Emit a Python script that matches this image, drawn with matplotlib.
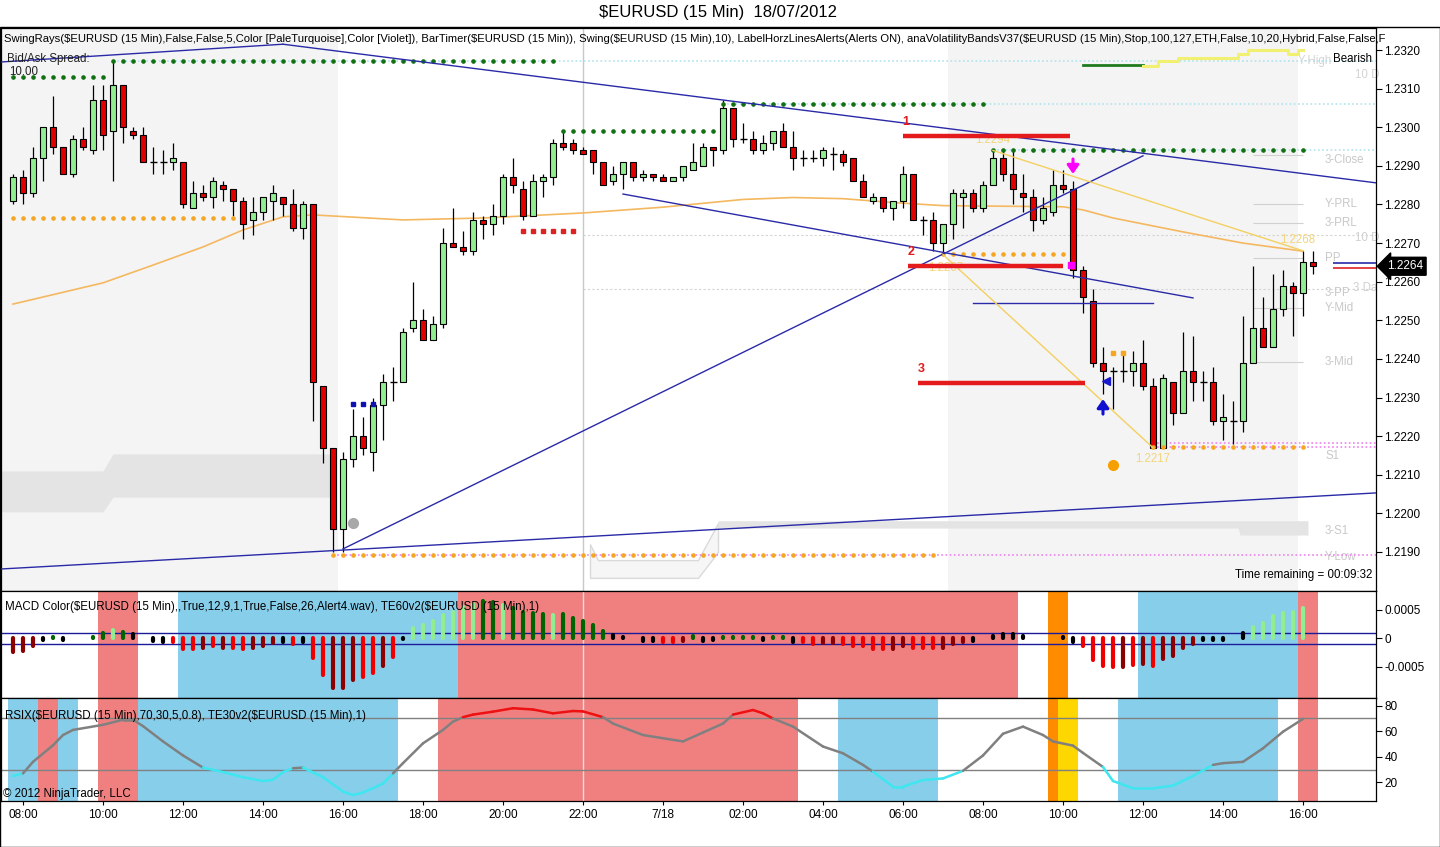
import matplotlib
matplotlib.use("Agg")
import matplotlib.pyplot as plt
import matplotlib.transforms as mtransforms
import numpy as np

plt.rcParams["font.family"] = ["Liberation Sans", "DejaVu Sans"]

W, H = 1440, 847

# 15 min bars, bar 0 = 07:45 on 17/07
opens = [1.2281, 1.2287, 1.2283, 1.2292, 1.2300, 1.2295, 1.2288, 1.2297, 1.2294, 1.2307,
         1.2299, 1.2311, 1.2299, 1.2298, 1.2291, 1.2291, 1.2291, 1.2291, 1.2279, 1.2283,
         1.2282, 1.2285, 1.2284, 1.2281, 1.2276, 1.2278, 1.2281, 1.2282, 1.2280, 1.2274,
         1.2280, 1.2233, 1.2217, 1.2196, 1.2214, 1.2220, 1.2216, 1.2228, 1.2234, 1.2234,
         1.2248, 1.2250, 1.2245, 1.2249, 1.2270, 1.2269, 1.2268, 1.2276, 1.2275, 1.2277,
         1.2287, 1.2284, 1.2277, 1.2286, 1.2287, 1.2296, 1.2296, 1.2294, 1.2294, 1.2291,
         1.2286, 1.2288, 1.2291, 1.2287, 1.2288, 1.2287, 1.2286, 1.2287, 1.2289, 1.2290,
         1.2295, 1.2294, 1.2305, 1.2297, 1.2297, 1.2294, 1.2296, 1.2299, 1.2295, 1.2292,
         1.2292, 1.2292, 1.2293, 1.2293, 1.2292, 1.2286, 1.2281, 1.2282, 1.2279, 1.2281,
         1.2288, 1.2276, 1.2276, 1.2270, 1.2275, 1.2282, 1.2283, 1.2279, 1.2285, 1.2292,
         1.2288, 1.2283, 1.2282, 1.2276, 1.2278, 1.2285, 1.2284, 1.2263, 1.2255, 1.2239,
         1.2237, 1.2237, 1.2237, 1.2239, 1.2233, 1.2217, 1.2234, 1.2226, 1.2237, 1.2234,
         1.2234, 1.2224, 1.2224, 1.2224, 1.2239, 1.2248, 1.2243, 1.2253, 1.2259, 1.2257,
         1.2265]
highs = [1.2288, 1.2289, 1.2295, 1.2300, 1.2308, 1.2295, 1.2298, 1.2300, 1.2311, 1.2311,
         1.2317, 1.2311, 1.2300, 1.2300, 1.2295, 1.2294, 1.2296, 1.2291, 1.2286, 1.2285,
         1.2287, 1.2286, 1.2284, 1.2282, 1.2282, 1.2282, 1.2285, 1.2282, 1.2284, 1.2281,
         1.2280, 1.2233, 1.2217, 1.2216, 1.2227, 1.2225, 1.2230, 1.2236, 1.2238, 1.2248,
         1.2260, 1.2253, 1.2251, 1.2274, 1.2279, 1.2273, 1.2278, 1.2277, 1.2280, 1.2288,
         1.2292, 1.2286, 1.2288, 1.2288, 1.2297, 1.2299, 1.2297, 1.2295, 1.2294, 1.2291,
         1.2290, 1.2291, 1.2291, 1.2289, 1.2288, 1.2288, 1.2287, 1.2290, 1.2296, 1.2296,
         1.2295, 1.2307, 1.2305, 1.2301, 1.2299, 1.2298, 1.2299, 1.2301, 1.2299, 1.2294,
         1.2294, 1.2295, 1.2295, 1.2294, 1.2292, 1.2288, 1.2283, 1.2282, 1.2281, 1.2290,
         1.2288, 1.2277, 1.2278, 1.2275, 1.2284, 1.2284, 1.2284, 1.2286, 1.2294, 1.2294,
         1.2294, 1.2288, 1.2284, 1.2282, 1.2289, 1.2289, 1.2286, 1.2264, 1.2258, 1.2243,
         1.2238, 1.2242, 1.2242, 1.2245, 1.2235, 1.2236, 1.2234, 1.2247, 1.2246, 1.2237,
         1.2238, 1.2231, 1.2229, 1.2251, 1.2264, 1.2256, 1.2262, 1.2263, 1.2260, 1.2268,
         1.2268]
lows = [1.2280, 1.2280, 1.2282, 1.2286, 1.2293, 1.2288, 1.2287, 1.2294, 1.2293, 1.2294,
        1.2286, 1.2296, 1.2297, 1.2291, 1.2288, 1.2288, 1.2289, 1.2279, 1.2279, 1.2281,
        1.2279, 1.2281, 1.2277, 1.2271, 1.2272, 1.2276, 1.2276, 1.2277, 1.2273, 1.2271,
        1.2224, 1.2213, 1.2190, 1.2190, 1.2212, 1.2215, 1.2211, 1.2219, 1.2229, 1.2234,
        1.2247, 1.2245, 1.2245, 1.2248, 1.2269, 1.2267, 1.2267, 1.2271, 1.2272, 1.2275,
        1.2283, 1.2276, 1.2277, 1.2282, 1.2285, 1.2294, 1.2293, 1.2293, 1.2288, 1.2285,
        1.2285, 1.2284, 1.2286, 1.2286, 1.2286, 1.2286, 1.2286, 1.2286, 1.2289, 1.2290,
        1.2290, 1.2293, 1.2295, 1.2296, 1.2293, 1.2293, 1.2294, 1.2295, 1.2289, 1.2290,
        1.2291, 1.2290, 1.2289, 1.2290, 1.2286, 1.2282, 1.2280, 1.2278, 1.2276, 1.2279,
        1.2276, 1.2272, 1.2268, 1.2267, 1.2271, 1.2274, 1.2278, 1.2278, 1.2285, 1.2286,
        1.2280, 1.2278, 1.2273, 1.2275, 1.2277, 1.2283, 1.2261, 1.2252, 1.2238, 1.2231,
        1.2227, 1.2234, 1.2233, 1.2232, 1.2217, 1.2217, 1.2223, 1.2226, 1.2229, 1.2229,
        1.2223, 1.2219, 1.2218, 1.2221, 1.2239, 1.2243, 1.2243, 1.2251, 1.2246, 1.2251,
        1.2262]
closes = [1.2287, 1.2283, 1.2292, 1.2300, 1.2295, 1.2288, 1.2297, 1.2295, 1.2307, 1.2298,
          1.2311, 1.2300, 1.2298, 1.2291, 1.2291, 1.2291, 1.2292, 1.2280, 1.2283, 1.2282,
          1.2286, 1.2284, 1.2281, 1.2275, 1.2278, 1.2282, 1.2283, 1.2280, 1.2274, 1.2280,
          1.2234, 1.2217, 1.2196, 1.2214, 1.2220, 1.2217, 1.2228, 1.2234, 1.2234, 1.2247,
          1.2250, 1.2245, 1.2249, 1.2270, 1.2269, 1.2268, 1.2276, 1.2275, 1.2277, 1.2287,
          1.2285, 1.2277, 1.2286, 1.2287, 1.2296, 1.2295, 1.2294, 1.2293, 1.2291, 1.2285,
          1.2288, 1.2291, 1.2287, 1.2288, 1.2287, 1.2286, 1.2287, 1.2290, 1.2291, 1.2295,
          1.2294, 1.2305, 1.2297, 1.2297, 1.2294, 1.2296, 1.2299, 1.2295, 1.2292, 1.2292,
          1.2292, 1.2294, 1.2293, 1.2291, 1.2286, 1.2282, 1.2282, 1.2279, 1.2281, 1.2288,
          1.2276, 1.2276, 1.2270, 1.2275, 1.2283, 1.2283, 1.2279, 1.2285, 1.2292, 1.2288,
          1.2284, 1.2282, 1.2276, 1.2279, 1.2285, 1.2284, 1.2263, 1.2256, 1.2239, 1.2237,
          1.2237, 1.2237, 1.2239, 1.2233, 1.2217, 1.2235, 1.2226, 1.2237, 1.2234, 1.2234,
          1.2224, 1.2225, 1.2224, 1.2239, 1.2248, 1.2243, 1.2253, 1.2259, 1.2257, 1.2265,
          1.2264]

tick_labels = ["08:00", "10:00", "12:00", "14:00", "16:00", "18:00", "20:00", "22:00", "7/18",
               "02:00", "04:00", "06:00", "08:00", "10:00", "12:00", "14:00", "16:00"]
tick_bars = list(range(1, 131, 8))
price_ticks = [1.2190, 1.2200, 1.2210, 1.2220, 1.2230, 1.2240, 1.2250,
               1.2260, 1.2270, 1.2280, 1.2290, 1.2300, 1.2310, 1.2320]
last_price = 1.2264

# moving average, read at a handful of bars
ma_bars = [0, 9, 14, 19, 23, 27, 30, 39, 47, 57, 65, 73, 78, 83, 88, 93, 105, 107, 110, 117, 123, 129]
ma_vals = [1.22542, 1.22597, 1.22643, 1.22690, 1.22734, 1.22768, 1.22773, 1.22760, 1.22765,
           1.22778, 1.22793, 1.22813, 1.22818, 1.22815, 1.22805, 1.22797, 1.22794, 1.22786,
           1.22765, 1.22729, 1.22700, 1.22679]

# volatility band pieces
vb1_bars = [-1.2, 9, 10, 31.7]
vb1_upper = [1.22110, 1.22110, 1.22154, 1.22154]
vb1_lower = [1.22004, 1.22004, 1.22042, 1.22042]
vb2_bars = [57.7, 58.5, 68.5, 70.5]
vb2_upper = [1.21920, 1.21879, 1.21879, 1.21975]
vb2_lower = [1.21833, 1.21833, 1.21833, 1.21900]
vb3_bars = [70.5, 122.5, 122.7, 129.5]
vb3_upper = [1.21981, 1.21981, 1.21981, 1.21981]
vb3_lower = [1.21962, 1.21962, 1.21944, 1.21944]

# swing points (dotted levels)
swing_hi_start = [0, 10, 55, 71, 98]
swing_hi_end = [9, 54, 70, 97, 129]
swing_hi_price = [1.23130, 1.23172, 1.22990, 1.23060, 1.22941]
swing_lo_start = [0, 32, 93, 114]
swing_lo_end = [22, 92, 105, 129]
swing_lo_price = [1.22765, 1.21892, 1.22672, 1.22172]
ray_hi_start = [10, 71, 98]
ray_hi_price = [1.23172, 1.23060, 1.22941]
ray_lo_start = [32, 114, 114]
ray_lo_price = [1.21892, 1.22182, 1.22172]
red_sq = (51, 56, 1.22731)
blue_sq = (34, 36, 1.22283)
orange_sq = (110, 111, 1.22415)

# hand drawn trend lines (bar, price) pairs
trend_lines = [((-1.2, 1.23169), (27, 1.23215)),
               ((27, 1.23215), (136.3, 1.22856)),
               ((-1.2, 1.21856), (136.3, 1.22053)),
               ((33, 1.21908), (113, 1.22926)),
               ((61, 1.22827), (118, 1.22558)),
               ((96, 1.22545), (114, 1.22545))]
zigzag_hi = [(98, 1.2294), (129, 1.2268)]
zigzag_lo = [(93, 1.2267), (114, 1.2217)]

# alert levels 1-3
alert_ids = ["1", "2", "3"]
alert_price = [1.22977, 1.22641, 1.22338]
alert_start = [89, 89.5, 90.5]
alert_end = [105.7, 105, 107.2]

# pivots
pivot_names = ["3-Close", "Y-PRL", "3-PRL", "PP", "3-PP", "Y-Mid", "3-Mid", "S1", "3-S1", "Y-Low"]
pivot_price = [1.22915, 1.22801, 1.22752, 1.22661, 1.22571, 1.22532, 1.22392, 1.22149, 1.21955, 1.21887]
pivot_lines = [1.22928, 1.22801, 1.22752, 1.22661, 1.22532, 1.22392]
tenday_levels = [1.22721, 1.22581]

# trend state line (top right)
bear_bars = [107, 108, 109, 110, 111, 112, 113]
bear_vals = [1.23161] * 7
trend_bars = [113, 114, 115, 116, 117, 118, 119, 120, 121, 122, 123, 124, 125, 126, 127, 128, 129]
trend_vals = [1.23159, 1.23159, 1.23172, 1.23172, 1.23179, 1.23179, 1.23179, 1.23179, 1.23179,
              1.23179, 1.23190, 1.23200, 1.23200, 1.23200, 1.23200, 1.23190, 1.23200]

# MACD histogram
macd_vals = [
    -0.00023, -0.00022, -0.00013, -0.00002, 0.00002, -0.00002, 0.0, 0.0, 0.00003, 0.00009,
    0.00015, 0.00011, 0.00007, 0.0, -0.00004, -0.00006, -0.00006, -0.00019, -0.00019, -0.00016,
    -0.00014, -0.00016, -0.00016, -0.00019, -0.00016, -0.00013, -0.00008, -0.00006, -0.0001, -0.00006,
    -0.00035, -0.00064, -0.00086, -0.00086, -0.00073, -0.00067, -0.00061, -0.00048, -0.00032, -0.00001,
    0.00018, 0.00024, 0.00031, 0.00041, 0.00047, 0.00056, 0.00061, 0.00066, 0.00064, 0.00058,
    0.00053, 0.00047, 0.00045, 0.00043, 0.00041, 0.00043, 0.00036, 0.00030, 0.00023, 0.00013,
    0.00006, 0.00002, 0.0, -0.00004, -0.00005, -0.00007, -0.00007, -0.00005, 0.00004, -0.00004,
    -0.00003, 0.00003, 0.00003, 0.00003, 0.00003, -0.00002, 0.00003, 0.00003, -0.00006, -0.00007,
    -0.00009, -0.00008, -0.00008, -0.00009, -0.00013, -0.00013, -0.00018, -0.00018, -0.00019, -0.00014,
    -0.00016, -0.00016, -0.00017, -0.00016, -0.00009, -0.00006, -0.00004, 0.0, 0.00005, 0.00007,
    0.00007, 0.00004, 0.0, 0.0, 0.0, 0.00002, -0.00006, -0.00014, -0.00038, -0.00048,
    -0.0005, -0.0005, -0.00047, -0.00044, -0.00048, -0.00036, -0.00031, -0.00017, -0.0001, -0.00002,
    -0.00002, -0.00002, 0.0, 0.00009, 0.00021, 0.00027, 0.00039, 0.00045, 0.00047, 0.00054,
    np.nan]
macd_cols = list("DDDKGKSSGG" "LGKSKKRRRD" "RDRRDDDKRK" "RRDDDRRDRK" "LLLLLLLGGL"
                 "GGGGLGGGGG" "KKSKKRRDGK" "KGGGGKGGKR" "RDDRRRRRDD" "RRRDDDKSKK"
                 "KKSSSKKRRR" "RDRDRDDDDK" "KKSKLLLLLL" "S")
macd_bg = [(9, 12, "r"), (17, 44, "b"), (45, 100, "r"), (104, 105, "o"), (113, 128, "b"), (129, 130, "r")]

# RSI
rsi_bars = [0, 1, 2, 4, 5, 6, 9, 11, 12, 13, 15, 17, 19, 21, 23, 25, 26, 27, 28, 29,
            31, 33, 34, 35, 37, 38, 39, 41, 43, 44, 45, 46, 48, 50, 52, 54, 56, 57, 59, 60,
            63, 67, 69, 71, 72, 74, 75, 76, 78, 81, 83, 85, 86, 88, 89, 91, 93, 95, 97, 99,
            101, 103, 104, 106, 107, 109, 110, 112, 114, 116, 118, 120, 121, 123, 125, 127, 129]
rsi_vals = [24.9, 27, 36, 49, 57, 61, 65, 69, 69, 64, 52, 41, 31.5, 28, 24, 21, 22, 28, 31, 31.5,
            24, 12.7, 10, 12, 19, 27, 35, 50.5, 61, 67.5, 71, 73, 75.3, 78, 77, 74, 75.8, 75.5, 71, 66,
            57, 52, 59, 66, 73, 76.6, 74, 70, 63.6, 48, 42.7, 33.6, 28.3, 16.6, 16.6, 21.8, 23, 29, 41, 58,
            63.6, 57, 52, 48.7, 43, 32, 21, 15.3, 15.3, 17.4, 25, 33.6, 35, 36, 46.6, 59.6, 69.6]
rsi_bg = [(0, 2, "b"), (3, 4, "r"), (5, 6, "b"), (9, 12, "r"), (13, 38, "b"), (43, 78, "r"),
          (83, 92, "b"), (104, 104, "o"), (105, 106, "y"), (111, 126, "b"), (129, 130, "r")]

hdr_main = ("SwingRays($EURUSD (15 Min),False,False,5,Color [PaleTurquoise],Color [Violet]), "
            "BarTimer($EURUSD (15 Min)), Swing($EURUSD (15 Min),10), LabelHorzLinesAlerts(Alerts ON), "
            "anaVolatilityBandsV37($EURUSD (15 Min),Stop,100,127,ETH,False,10,20,Hybrid,False,False,F")
hdr_macd = "MACD Color($EURUSD (15 Min),,True,12,9,1,True,False,26,Alert4.wav), TE60v2($EURUSD (15 Min),1)"
hdr_rsi = "RSIX($EURUSD (15 Min),70,30,5,0.8), TE30v2($EURUSD (15 Min),1)"

BG = {"r": "#f08080", "b": "#87ceeb", "o": "#ff8c00", "y": "#ffd700"}
MACD_C = {"D": "#8b0000", "R": "#ee0000", "G": "#006400", "L": "#90ee90", "K": "#000000", "S": "#909090"}
NAVY = "#2a2aa8"


def px_rect(x0, y0, x1, y1):
    return [x0 / W, 1 - y1 / H, (x1 - x0) / W, (y1 - y0) / H]


def ftext(x, y, s, **kw):
    fig.text(x / W, 1 - y / H, s, parse_math=False, **kw)


fig = plt.figure(figsize=(W / 100, H / 100), dpi=100)
ax = fig.add_axes(px_rect(1, 28, 1376, 591))
ax_macd = fig.add_axes(px_rect(1, 591, 1376, 698), sharex=ax)
ax_rsi = fig.add_axes(px_rect(1, 698, 1376, 801), sharex=ax)

o, h, l, c = (np.array(v) for v in (opens, highs, lows, closes))
bars = np.arange(len(o))

# ---------------- price panel ----------------
ax.axvspan(-1.2, 32.5, color="#f4f4f4", lw=0, zorder=0)
ax.axvspan(93.5, 128.5, color="#f4f4f4", lw=0, zorder=0)
ax.fill_between(vb1_bars, vb1_lower, vb1_upper, color="#e4e4e4", lw=0, zorder=1)
ax.fill_between(vb2_bars, vb2_lower, vb2_upper, facecolor="#f6f6f6", edgecolor="#dadada", lw=1, zorder=1)
ax.fill_between(vb3_bars, vb3_lower, vb3_upper, color="#e4e4e4", lw=0, zorder=1)

for lv in tenday_levels:
    ax.hlines(lv, 57, 136.3, color="#d4d4d4", lw=0.8, ls=(0, (2, 2)), zorder=1)
for lv in pivot_lines:
    ax.hlines(lv, 124, 129, color="#d0d0d0", lw=0.8, zorder=1)
for name, pr in zip(pivot_names, pivot_price):
    ax.text(131.2, pr, name, color="#c8c8c8", fontsize=8.3, va="center", ha="left", zorder=1)
ax.text(131.9, 1.23172, "Y-High", color="#d4d4d4", fontsize=8.3, va="center", ha="right", zorder=1)
ax.text(134.2, 1.23135, "10 D", color="#d4d4d4", fontsize=8.3, va="center", zorder=1)
ax.text(134.2, 1.22712, "10 D", color="#d0d0d0", fontsize=8.3, va="center", zorder=1)
ax.text(134.0, 1.22584, "3 Da", color="#d0d0d0", fontsize=8.3, va="center", zorder=1)

ax.axvline(57, color="#c8c8c8", lw=1, zorder=1)
ax.plot(ma_bars, ma_vals, color="#f4b860", lw=1.2, zorder=2)

for s, p in zip(ray_hi_start, ray_hi_price):
    ax.hlines(p, s, 136.3, color="#b0e4ee", lw=1.2, ls=(0, (1, 1.5)), zorder=2)
for s, p in zip(ray_lo_start, ray_lo_price):
    ax.hlines(p, s, 136.3, color="#ee82ee", lw=1.2, ls=(0, (1, 1.5)), zorder=2)

# candles
up, dn = c > o, c < o
flat = ~(up | dn)
ax.vlines(bars, l, h, color="black", lw=0.9, zorder=4)
ax.bar(bars[up], (c - o)[up], bottom=o[up], width=0.62, color="#90ee90", edgecolor="black", lw=0.8, zorder=5)
ax.bar(bars[dn], (o - c)[dn], bottom=c[dn], width=0.62, color="#e00000", edgecolor="black", lw=0.8, zorder=5)
ax.hlines(o[flat], bars[flat] - 0.35, bars[flat] + 0.35, color="black", lw=1, zorder=5)

# swing dots
for s, e, p in zip(swing_hi_start, swing_hi_end, swing_hi_price):
    xs = np.arange(s, e + 1)
    ax.plot(xs, np.full(len(xs), p), ls="none", marker="o", ms=2.3, color="#127012", zorder=6)
for s, e, p in zip(swing_lo_start, swing_lo_end, swing_lo_price):
    xs = np.arange(s, e + 1)
    ax.plot(xs, np.full(len(xs), p), ls="none", marker="o", ms=2.3, color="#f5a623", zorder=6)
for (s, e, p), col in ((red_sq, "#dd2222"), (blue_sq, "#1010b0"), (orange_sq, "#f5a623")):
    xs = np.arange(s, e + 1)
    ax.plot(xs, np.full(len(xs), p), ls="none", marker="s", ms=3, color=col, zorder=6)

# trend lines
for (x0, y0), (x1, y1) in trend_lines:
    ax.plot([x0, x1], [y0, y1], color=NAVY, lw=1, zorder=6)
ax.hlines(1.22648, 132, 136.3, color=NAVY, lw=1.2, zorder=6)
ax.hlines(1.22636, 132, 136.3, color="#dd2222", lw=1.2, zorder=6)
for seg in (zigzag_hi, zigzag_lo):
    ax.plot([seg[0][0], seg[1][0]], [seg[0][1], seg[1][1]], color="#f3d060", lw=1, zorder=6)

ax.text(98, 1.22967, "1.2294", color="#f3d57a", fontsize=8.3, ha="center", va="center", zorder=6)
ax.text(93.3, 1.22636, "1.2267", color="#f3d57a", fontsize=8.3, ha="center", va="center", zorder=5.5)
ax.text(114, 1.22141, "1.2217", color="#f3d57a", fontsize=8.3, ha="center", va="center", zorder=6)
ax.text(128.5, 1.22708, "1.2268", color="#f3d57a", fontsize=8.3, ha="center", va="center", zorder=6)

for lid, p, s, e in zip(alert_ids, alert_price, alert_start, alert_end):
    ax.hlines(p, s, e, color="#e41a1c", lw=3.2, zorder=7)
    ax.text(s + 0.3, p + 0.00036, lid, color="#e41a1c", fontsize=9, fontweight="bold",
            ha="center", va="center", zorder=7)

# markers
ax.plot(34, 1.21975, marker="o", ms=7, color="#a8a8a8", zorder=7)
ax.plot(110, 1.22125, marker="o", ms=7, color="#f5a000", zorder=7)
ax.plot(105.8, 1.22643, marker="s", ms=4.5, color="#ff00ff", zorder=7)
ax.plot(109.3, 1.22343, marker="<", ms=5.5, color="#1a1acd", zorder=7)
ax.annotate("", xy=(106, 1.22872), xytext=(106, 1.22925),
            arrowprops=dict(arrowstyle="-|>,head_width=0.35,head_length=0.5", color="#ff00ff", lw=2.2),
            zorder=7)
ax.annotate("", xy=(109, 1.22303), xytext=(109, 1.22250),
            arrowprops=dict(arrowstyle="-|>,head_width=0.35,head_length=0.5", color="#1010d0", lw=2.2),
            zorder=7)

ax.plot(bear_bars, bear_vals, color="#1f7a1f", lw=2, zorder=6)
ax.plot(trend_bars, trend_vals, color="#f2f070", lw=2.2, drawstyle="steps-mid", zorder=6)

ax.text(-0.6, 1.23177, "Bid/Ask Spread:", fontsize=8.3, va="center", color="#202020", zorder=8)
ax.text(-0.4, 1.23143, "10.00", fontsize=8.3, va="center", color="#202020", zorder=8)
ax.text(132.0, 1.23177, "Bearish", fontsize=8.3, va="center", color="black", zorder=8)
ax.text(135.9, 1.21840, "Time remaining = 00:09:32", fontsize=8.3, va="center", ha="right", zorder=8)
ax.text(3 / 1375, 1 - 11 / 563, hdr_main, transform=ax.transAxes, fontsize=8.1, va="center",
        parse_math=False, zorder=8)

ax.set_xlim(-1.2, 136.3)
ax.set_ylim(1.217990, 1.232570)
ax.yaxis.tick_right()
ax.set_yticks(price_ticks)
ax.set_yticklabels([f"{v:.4f}" for v in price_ticks])
ax.tick_params(axis="y", length=4, pad=2, labelsize=8.5)
ax.tick_params(axis="x", length=0, labelbottom=False)

blend = mtransforms.blended_transform_factory(fig.transFigure, ax.transData)
ax.text(1387 / W, last_price, "1.2264", transform=blend, color="white", fontsize=8.5, va="center",
        ha="left", clip_on=False, zorder=9,
        bbox=dict(boxstyle="larrow,pad=0.25", fc="black", ec="black"))

# ---------------- MACD panel ----------------
for s, e, k in macd_bg:
    ax_macd.axvspan(s - 0.5, e + 0.5, color=BG[k], lw=0, zorder=0)
ax_macd.axvline(57, color="#e0e0e0", lw=1, zorder=1)
ax_macd.axhline(0.0001, color="#1a1a9a", lw=1, zorder=2)
ax_macd.axhline(-0.0001, color="#1a1a9a", lw=1, zorder=2)
mv = np.array(macd_vals)
ok = ~np.isnan(mv)
ax_macd.vlines(bars[ok], 0, mv[ok], colors=[MACD_C[k] for k, g in zip(macd_cols, ok) if g],
               lw=3.0, capstyle="round", zorder=3)
ax_macd.set_ylim(-0.001044, 0.000833)
ax_macd.yaxis.tick_right()
ax_macd.set_yticks([0.0005, 0, -0.0005])
ax_macd.set_yticklabels(["0.0005", "0", "-0.0005"])
ax_macd.tick_params(axis="y", length=4, pad=2, labelsize=8.5)
ax_macd.tick_params(axis="x", length=0, labelbottom=False)
ax_macd.text(4 / 1375, 1 - 16 / 107, hdr_macd, transform=ax_macd.transAxes, fontsize=8.3,
             va="center", parse_math=False, zorder=8)

# ---------------- RSI panel ----------------
for s, e, k in rsi_bg:
    ax_rsi.axvspan(s - 0.5, e + 0.5, color=BG[k], lw=0, zorder=0)
ax_rsi.axvline(57, color="#e0e0e0", lw=1, zorder=1)
ax_rsi.axhline(70, color="#808080", lw=1, zorder=2)
ax_rsi.axhline(30, color="#808080", lw=1, zorder=2)
rb, rv = np.array(rsi_bars), np.array(rsi_vals)
for i in range(len(rb) - 1):
    m = (rv[i] + rv[i + 1]) / 2
    col = "#ee1111" if m > 70 else ("#3ee6f0" if m < 30 else "#808080")
    ax_rsi.plot(rb[i:i + 2], rv[i:i + 2], color=col, lw=1.8, solid_capstyle="round", zorder=3)
ax_rsi.set_ylim(5.35, 86)
ax_rsi.yaxis.tick_right()
ax_rsi.set_yticks([20, 40, 60, 80])
ax_rsi.tick_params(axis="y", length=4, pad=2, labelsize=8.5)
ax_rsi.set_xticks(tick_bars)
ax_rsi.set_xticklabels(tick_labels)
ax_rsi.tick_params(axis="x", length=3, pad=3, labelsize=8.5)
ax_rsi.text(4 / 1375, 1 - 18 / 103, hdr_rsi, transform=ax_rsi.transAxes, fontsize=8.3,
            va="center", parse_math=False, zorder=8)
ax_rsi.text(2 / 1375, 1 - 96 / 103, "\u00a9 2012 NinjaTrader, LLC", transform=ax_rsi.transAxes,
            fontsize=8.3, va="center", zorder=8)

for a in (ax, ax_macd, ax_rsi):
    for sp in a.spines.values():
        sp.set_linewidth(0.9)

fig.patches.append(plt.Rectangle((0, 0), 1, (H - 27) / H, transform=fig.transFigure,
                                 fill=False, lw=1, ec="black"))
ftext(718, 13, "$EURUSD (15 Min)  18/07/2012", fontsize=12, ha="center", va="center")

fig.savefig("out.png", dpi=100)
